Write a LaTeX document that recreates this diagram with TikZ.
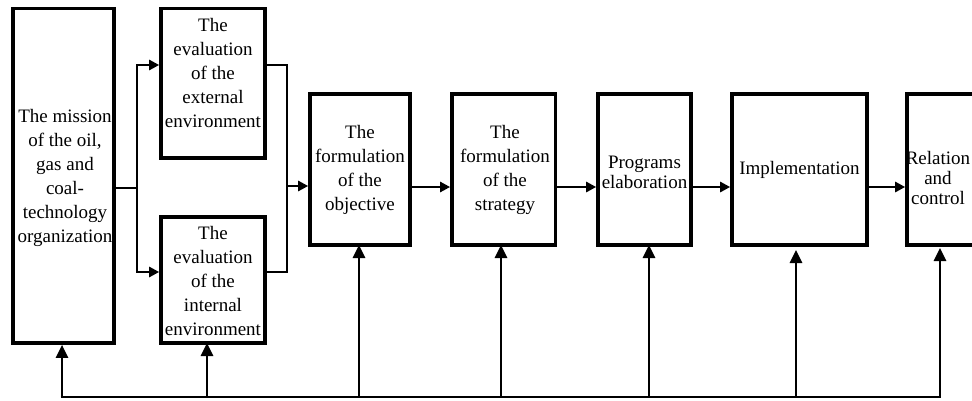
\documentclass[tikz,border=0pt]{standalone}
\usepackage{fontspec}
\setmainfont{Liberation Serif}
\usetikzlibrary{arrows.meta}

\tikzset{
  stage/.style={draw=black, line width=3.6pt, rectangle, inner sep=0pt},
  stagetext/.style={align=center, inner sep=0pt,
    font=\fontsize{19}{24}\selectfont},
  tighttext/.style={stagetext, font=\fontsize{19}{20}\selectfont},
  flow/.style={line width=2.6pt, -{Triangle[length=10pt,width=10pt]}},
  link/.style={line width=2.6pt},
  feedback/.style={line width=2.6pt, -{Triangle[length=13pt,width=12pt]}},
}

\begin{document}
\begin{tikzpicture}[x=1pt, y=-1pt]
\useasboundingbox (0,0) rectangle (972,400);
\clip (0,0) rectangle (972,400);

% stage boxes
\node[stage, minimum width=101pt, minimum height=334.5pt] (mission) at (63.5,175.75) {};
\node[stage, minimum width=104pt, minimum height=149.5pt] (external) at (213,83.25) {};
\node[stage, minimum width=104pt, minimum height=126pt] (internal) at (213,280) {};
\node[stage, minimum width=100pt, minimum height=151pt] (objective) at (360,169.5) {};
\node[stage, minimum width=103.5pt, minimum height=151pt] (strategy) at (503.7,169.5) {};
\node[stage, minimum width=93pt, minimum height=151pt] (programs) at (644.5,169.5) {};
\node[stage, minimum width=135pt, minimum height=151pt] (implementation) at (799.5,169.5) {};
\node[stage, minimum width=83pt, minimum height=151pt] (relation) at (948.5,169.5) {};

% stage captions
\node[stagetext] (missionText) at (65,177.5) {The mission\\of the oil,\\gas and\\coal-\\technology\\organization};
\node[stagetext] (externalText) at (213,72.5) {The\\evaluation\\of the\\external\\environment};
\node[stagetext] (internalText) at (213,281) {The\\evaluation\\of the\\internal\\environment};
\node[stagetext] (objectiveText) at (360,170) {The\\formulation\\of the\\objective};
\node[stagetext] (strategyText) at (505,170) {The\\formulation\\of the\\strategy};
\node[tighttext] (programsText) at (644.5,172) {Programs\\elaboration};
\node[stagetext] (implementationText) at (799.5,170) {Implementation};
\node[tighttext] (relationText) at (938,178) {Relation\\and\\control};

% branching from the mission to both evaluations
\coordinate (split) at (137,188);
\draw[link] (mission.east |- split) -- (split);
\draw[flow] (split) |- (external.west |- 0,65);
\draw[flow] (split) |- (internal.west |- 0,272);

% merging both evaluations into the objective
\coordinate (merge) at (287,186);
\draw[link] (external.east |- 0,65) -| (merge |- 0,65) -- (merge |- 0,272) -- (internal.east |- 0,272);
\draw[flow] (merge) -- (objective.west |- merge);

% main sequence
\draw[flow] (objective.east |- 0,187) -- (strategy.west |- 0,187);
\draw[flow] (strategy.east |- 0,187) -- (programs.west |- 0,187);
\draw[flow] (programs.east |- 0,187) -- (implementation.west |- 0,187);
\draw[flow] (implementation.east |- 0,187) -- (relation.west |- 0,187);

% feedback bus
\coordinate (busL) at (62,397);
\coordinate (busR) at (940,397);
\draw[link] ([xshift=-1.3pt]busL) -- ([xshift=1.3pt]busR);
\draw[feedback] (busL) -- (busL |- mission.south);
\draw[feedback] (207,397) -- (207,343);
\draw[feedback] (359,397) -- (359,245);
\draw[feedback] (501,397) -- (501,245);
\draw[feedback] (649,397) -- (649,245);
\draw[feedback] (796,397) -- (796,250);
\draw[feedback] (busR) -- (940,248);
\end{tikzpicture}
\end{document}
